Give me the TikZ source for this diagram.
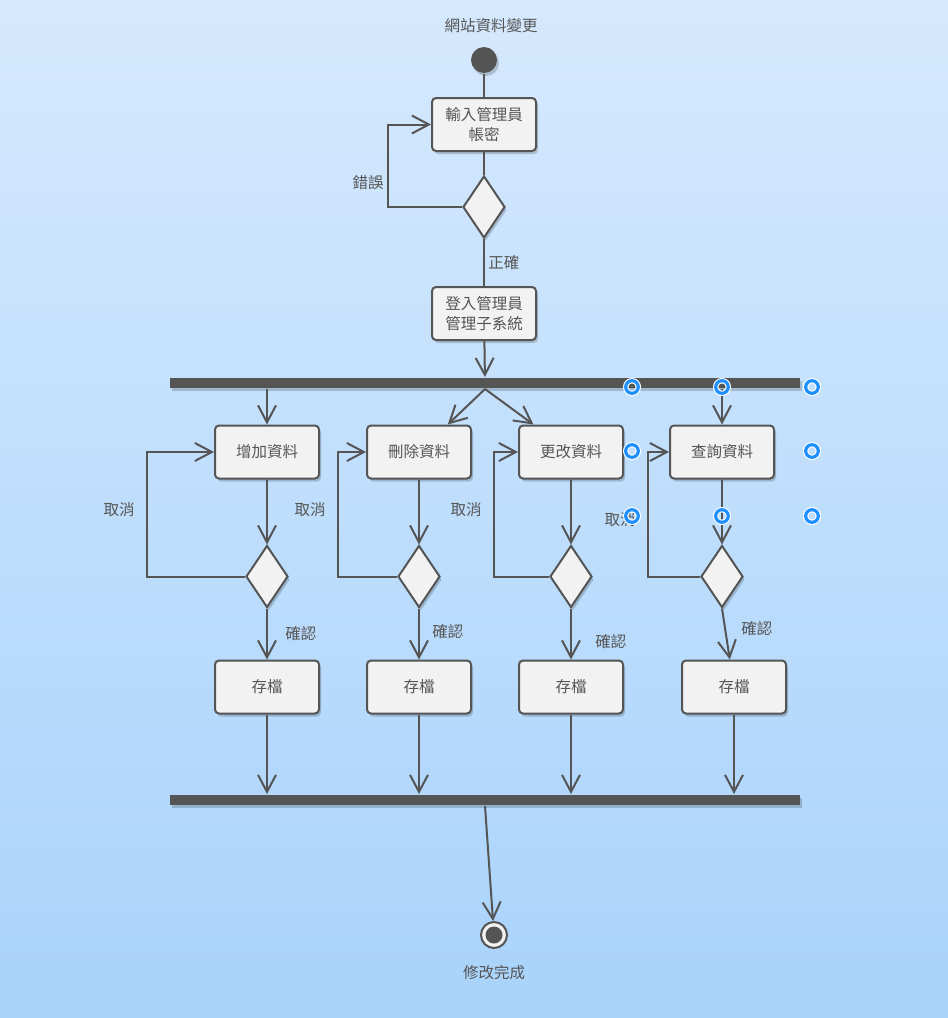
\documentclass[tikz,border=0pt]{standalone}
\usepackage{fontspec}
\setmainfont{Noto Sans CJK TC}
\usepackage{tikz}
\usetikzlibrary{
  positioning,
  shapes.geometric,
  arrows.meta,
  shadows
}
\definecolor{ink}{HTML}{555555}
\definecolor{boxfill}{HTML}{F2F2F2}
\definecolor{bgtop}{HTML}{D5E9FD}
\definecolor{bgbottom}{HTML}{A9D3FB}
\definecolor{handleblue}{HTML}{1E8FFF}
\tikzset{
  ->,
  >={Straight Barb[length=17pt,width=18pt]},
  every node/.style={text=ink, font=\fontsize{15.5}{20}\selectfont},
  softshadow/.style={drop shadow={fill=black, opacity=0.18, shadow xshift=2pt, shadow yshift=-3pt}},
  activity/.style={rectangle, rounded corners=4pt, draw=ink, fill=boxfill,
    minimum width=104pt, minimum height=53pt, align=center, softshadow},
  choice/.style={diamond, draw=ink, fill=boxfill, inner sep=0pt,
    minimum width=42pt, minimum height=62pt, softshadow},
  bar/.style={rectangle, fill=ink, inner sep=0pt, minimum width=630pt,
    minimum height=10pt, softshadow},
  startdot/.style={circle, fill=ink, inner sep=0pt, minimum size=26pt, softshadow},
  enddot/.style={circle, draw=ink, fill=boxfill, inner sep=0pt, minimum size=26pt,
    path picture={\fill[ink] (path picture bounding box.center) circle (8.5pt);}},
  handle/.style={draw=handleblue, line width=3.2pt, preaction={draw=white, line width=5.4pt}}
}

\begin{document}
\begin{tikzpicture}[x=1pt, y=-1pt, color=ink, line width=2pt]
    \useasboundingbox (0,0) rectangle (948,1018);
    \shade[top color=bgtop, bottom color=bgbottom] (0,0) rectangle (948,1018);

    \node (heading) at (491,26) {網站資料變更};
    \node[startdot] (start) at (484,60) {};
    \node[activity] (login) at (484,124.5) {輸入管理員\\帳密};
    \node[choice] (check) at (484,207) {};
    \node[activity] (admin) at (484,313.5) {登入管理員\\管理子系統};
    \node[bar] (fork) at (485,383) {};

    \node[activity] (add) at (267,452) {增加資料};
    \node[activity] (delete) at (419,452) {刪除資料};
    \node[activity] (modify) at (571,452) {更改資料};
    \node[activity] (query) at (722,452) {查詢資料};

    \node[choice, below=65pt of add] (addok) {};
    \node[choice, below=65pt of delete] (deleteok) {};
    \node[choice, below=65pt of modify] (modifyok) {};
    \node[choice, below=65pt of query] (queryok) {};

    \node[activity, below=51pt of addok] (addsave) {存檔};
    \node[activity, below=51pt of deleteok] (deletesave) {存檔};
    \node[activity, below=51pt of modifyok] (modifysave) {存檔};
    \node[activity, below=51pt of queryok, xshift=12pt] (querysave) {存檔};

    \node[bar] (join) at (485,800) {};
    \node[enddot] (finish) at (494,935) {};
    \node[below=12pt of finish] (donetext) {修改完成};

    \draw (start) edge[-] (login);
    \draw (login) edge[-] (check);
    \draw (check) edge[-, right] node{正確} (admin);
    \draw (check.west) -- ++(-74pt,0) |- node[left, pos=0.15]{錯誤} (login.west);

    \draw (admin) -- (fork);
    \draw (fork.south -| add) -- (add);
    \draw (fork.south) -- (delete);
    \draw (fork.south) -- (modify);
    \draw (fork.south -| query) -- (query);

    \draw (add) -- (addok);
    \draw (delete) -- (deleteok);
    \draw (modify) -- (modifyok);
    \draw (query) -- (queryok);

    \draw (addok.west) -- ++(-98pt,0) |- node[left=8pt, pos=0.27]{取消} (add.west);
    \draw (deleteok.west) -- ++(-59pt,0) |- node[left=8pt, pos=0.27]{取消} (delete.west);
    \draw (modifyok.west) -- ++(-55pt,0) |- node[left=8pt, pos=0.27]{取消} (modify.west);
    \draw (queryok.west) -- ++(-52pt,0) |- node[left=8pt, pos=0.23]{取消} (query.west);

    \draw (addok) edge node[right=14pt]{確認} (addsave);
    \draw (deleteok) edge node[right=9pt, pos=0.45]{確認} (deletesave);
    \draw (modifyok) edge node[right=20pt, pos=0.65]{確認} (modifysave);
    \draw (queryok.south) -- node[right=12pt, pos=0.4]{確認} (querysave);

    \draw (addsave) -- (addsave |- join.north);
    \draw (deletesave) -- (deletesave |- join.north);
    \draw (modifysave) -- (modifysave |- join.north);
    \draw (querysave) -- (querysave |- join.north);
    \draw (join.south) -- (finish);

    % selection handles
    \foreach \hx/\hy in {632/387, 722/387, 812/387, 632/451, 812/451, 632/516, 722/516, 812/516}
      \draw[handle] (\hx,\hy) circle (6.3pt);
\end{tikzpicture}
\end{document}
